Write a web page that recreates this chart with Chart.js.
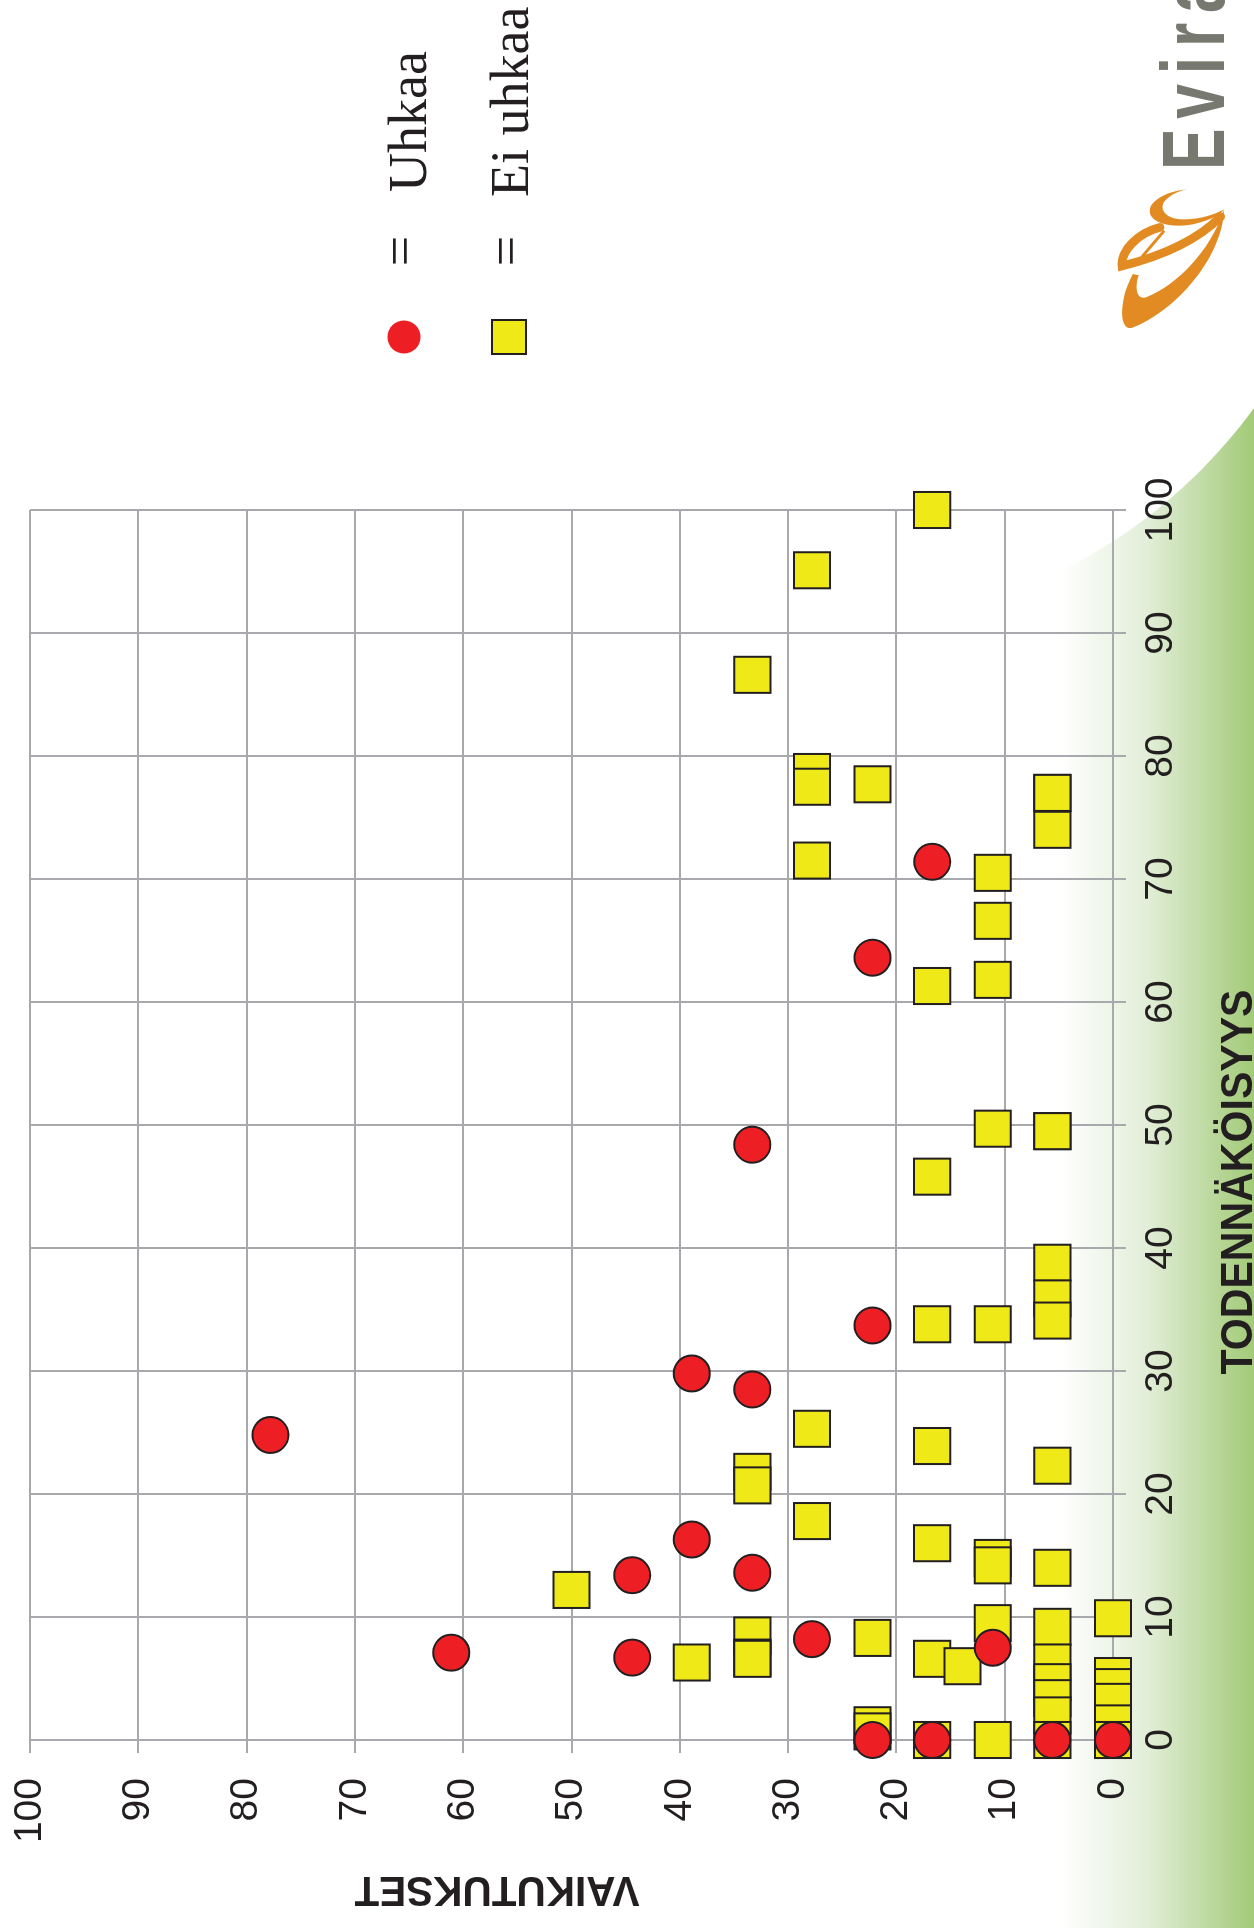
<!DOCTYPE html>
<html lang="fi">
<head>
<meta charset="utf-8">
<title>Vaikutukset ja todennäköisyys</title>
<script src="https://cdn.jsdelivr.net/npm/chart.js"></script>
<style>
  html, body { margin: 0; padding: 0; background: #fff; overflow: hidden; width: 1254px; height: 1928px; }
  /* chart is drawn lying on its side, then turned a quarter turn */
  #wrap { position: absolute; left: 0; top: 0; width: 1928px; height: 1254px;
          transform-origin: 0 0; transform: translateY(1928px) rotate(-90deg); }
</style>
</head>
<body>
<div id="wrap"><canvas id="chart" width="1928" height="1254"></canvas></div>
<script>
// TODENNÄKÖISYYS (x) and VAIKUTUKSET (y) for each group
const uhkaaX = [24.8, 7.1, 13.4, 6.7, 29.8, 16.3, 48.4, 28.5, 13.6, 8.2, 63.6, 33.7, 0, 71.4, 0, 7.5, 0, 0];
const uhkaaY = [77.8, 61.1, 44.4, 44.4, 38.9, 38.9, 33.3, 33.3, 33.3, 27.8, 22.2, 22.2, 22.2, 16.7, 16.7, 11.1, 5.6, 0];

const eiUhkaaX = [
  12.2,
  6.3,
  86.6, 21.8, 20.7, 8.5, 6.7, 6.6,
  95.1, 78.7, 77.5, 71.5, 25.3, 17.8,
  77.7, 8.3, 1.2, 0.7,
  100, 61.3, 45.8, 33.8, 23.9, 16.0, 6.6, 0,
  6.0,
  70.5, 66.6, 61.8, 49.7, 33.8, 14.8, 14.2, 9.5, 0,
  77.0, 77.0, 74.0, 49.5, 49.5, 38.8, 35.9, 34.1, 22.3, 14.0, 9.2, 6.3, 4.7, 3.4, 2.0, 0,
  9.9, 5.2, 4.3, 3.1, 1.35, 0
];
const eiUhkaaY = [
  50,
  38.9,
  33.3, 33.3, 33.3, 33.3, 33.3, 33.3,
  27.8, 27.8, 27.8, 27.8, 27.8, 27.8,
  22.2, 22.2, 22.2, 22.2,
  16.7, 16.7, 16.7, 16.7, 16.7, 16.7, 16.7, 16.7,
  13.9,
  11.1, 11.1, 11.1, 11.1, 11.1, 11.1, 11.1, 11.1, 11.1,
  5.6, 5.6, 5.6, 5.6, 5.6, 5.6, 5.6, 5.6, 5.6, 5.6, 5.6, 5.6, 5.6, 5.6, 5.6, 5.6,
  0, 0, 0, 0, 0, 0
];

const legendLabels = ['Uhkaa', 'Ei uhkaa'];
const xTitle = 'TODENNÄKÖISYYS';
const yTitle = 'VAIKUTUKSET';

const RED = '#ed1f24';
const YELLOW = '#f0e918';
const INK = '#231f20';
const GRID = '#a7a9ac';
const SANS = "'Liberation Sans', Arial, sans-serif";
const SERIF = "'Liberation Serif', 'Times New Roman', serif";

const toPoints = (xs, ys) => xs.map((x, i) => ({ x: x, y: ys[i] }));

// green corner behind the plot
const backdrop = {
  id: 'backdrop',
  beforeDraw(chart) {
    const ctx = chart.ctx;
    ctx.save();
    ctx.fillStyle = '#fff';
    ctx.fillRect(0, 0, chart.width, chart.height);
    const g = ctx.createLinearGradient(0, 1060, 0, 1254);
    g.addColorStop(0, 'rgba(255,255,255,1)');
    g.addColorStop(0.45, '#e2eed8');
    g.addColorStop(1, '#a2ca77');
    ctx.fillStyle = g;
    ctx.beginPath();
    ctx.moveTo(0, 1254);
    ctx.lineTo(0, 1000);
    ctx.lineTo(1335, 1010);
    ctx.bezierCurveTo(1365, 1090, 1420, 1180, 1520, 1254);
    ctx.closePath();
    ctx.fill();
    ctx.restore();
  }
};

// axis titles, legend and logo
const extras = {
  id: 'extras',
  afterDraw(chart) {
    const ctx = chart.ctx;
    ctx.save();
    ctx.fillStyle = INK;

    // x title
    ctx.font = 'bold 44px ' + SANS;
    ctx.textAlign = 'center';
    ctx.textBaseline = 'alphabetic';
    let w = ctx.measureText(xTitle).width;
    ctx.save();
    ctx.translate(746, 1252);
    ctx.scale(385 / w, 1);
    ctx.fillText(xTitle, 0, 0);
    ctx.restore();

    // y title
    ctx.font = 'bold 43px ' + SANS;
    w = ctx.measureText(yTitle).width;
    ctx.save();
    ctx.translate(51, 497);
    ctx.rotate(-Math.PI / 2);
    ctx.scale(285 / w, 1);
    ctx.fillText(yTitle, 0, 0);
    ctx.restore();

    // legend
    ctx.fillStyle = RED;
    ctx.beginPath();
    ctx.arc(1591, 404, 16.5, 0, Math.PI * 2);
    ctx.fill();
    ctx.fillStyle = YELLOW;
    ctx.strokeStyle = INK;
    ctx.lineWidth = 2;
    ctx.fillRect(1574, 492, 34, 34);
    ctx.strokeRect(1574, 492, 34, 34);

    ctx.fillStyle = INK;
    ctx.font = '54px ' + SERIF;
    ctx.textAlign = 'center';
    ctx.fillText('=', 1677, 418);
    ctx.fillText('=', 1677, 524);
    ctx.textAlign = 'left';
    ctx.fillText(legendLabels[0], 1736, 426);
    ctx.fillText(legendLabels[1], 1731, 528);

    // Evira wordmark
    ctx.fillStyle = '#77786f';
    ctx.font = 'bold 89px ' + SANS;
    ctx.save();
    ctx.translate(1758, 1224);
    ctx.scale(0.7, 1);
    ctx.letterSpacing = '14px';
    ctx.fillText('Evira', 0, 0);
    ctx.restore();

    // swoosh, drawn in upright picture coordinates
    ctx.save();
    ctx.transform(0, 1, -1, 0, 1928, 0);
    ctx.translate(1100, 170);
    ctx.scale(1 / 3, 1 / 3);
    ctx.fillStyle = '#e38b23';
    ctx.strokeStyle = '#e38b23';
    ctx.lineCap = 'round';

    ctx.beginPath();
    ctx.moveTo(262, 58);
    ctx.bezierCurveTo(200, 62, 140, 95, 150, 130);
    ctx.bezierCurveTo(160, 165, 230, 175, 290, 160);
    ctx.bezierCurveTo(330, 150, 360, 135, 372, 118);
    ctx.bezierCurveTo(340, 135, 300, 148, 250, 148);
    ctx.bezierCurveTo(205, 148, 180, 125, 190, 100);
    ctx.bezierCurveTo(200, 80, 235, 62, 262, 58);
    ctx.closePath();
    ctx.fill();

    ctx.lineWidth = 26;
    ctx.beginPath();
    ctx.moveTo(180, 172);
    ctx.bezierCurveTo(110, 190, 62, 245, 66, 288);
    ctx.bezierCurveTo(130, 272, 270, 232, 362, 140);
    ctx.stroke();

    ctx.beginPath();
    ctx.moveTo(372, 118);
    ctx.bezierCurveTo(368, 260, 230, 420, 100, 472);
    ctx.bezierCurveTo(58, 490, 52, 400, 98, 312);
    ctx.lineTo(116, 316);
    ctx.bezierCurveTo(104, 350, 108, 390, 138, 382);
    ctx.bezierCurveTo(230, 345, 330, 245, 372, 118);
    ctx.closePath();
    ctx.fill();

    ctx.lineWidth = 9;
    ctx.beginPath();
    ctx.moveTo(128, 258);
    ctx.lineTo(190, 185);
    ctx.stroke();
    ctx.restore();

    ctx.restore();
  }
};

const axisStyle = {
  type: 'linear',
  min: 0,
  max: 100,
  grid: { color: GRID, lineWidth: 2, tickLength: 13, tickColor: GRID },
  border: { color: GRID, width: 2 }
};

new Chart(document.getElementById('chart'), {
  type: 'scatter',
  data: {
    datasets: [
      {
        label: legendLabels[0],
        data: toPoints(uhkaaX, uhkaaY),
        pointStyle: 'circle',
        pointRadius: 18,
        backgroundColor: RED,
        borderColor: INK,
        borderWidth: 2,
        clip: false
      },
      {
        label: legendLabels[1],
        data: toPoints(eiUhkaaX, eiUhkaaY),
        pointStyle: 'rect',
        pointRadius: 25.5,
        backgroundColor: YELLOW,
        borderColor: INK,
        borderWidth: 2,
        clip: false
      }
    ]
  },
  options: {
    responsive: false,
    animation: false,
    events: [],
    layout: { padding: { top: 30, right: 510, left: 0, bottom: 0 } },
    plugins: {
      legend: { display: false },
      tooltip: { enabled: false }
    },
    scales: {
      x: {
        ...axisStyle,
        position: 'bottom',
        ticks: { stepSize: 10, padding: 12, color: INK, font: { family: SANS, size: 39 }, maxRotation: 0 },
        afterFit(scale) {
          scale.height = 141;
          scale.paddingLeft = 0;
          scale.paddingRight = 0;
        }
      },
      y: {
        ...axisStyle,
        position: 'left',
        ticks: { stepSize: 10, padding: 25, color: INK, font: { family: SANS, size: 39 } },
        afterFit(scale) {
          scale.width = 188;
          scale.paddingTop = 0;
          scale.paddingBottom = 0;
        }
      }
    }
  },
  plugins: [backdrop, extras]
});
</script>
</body>
</html>
